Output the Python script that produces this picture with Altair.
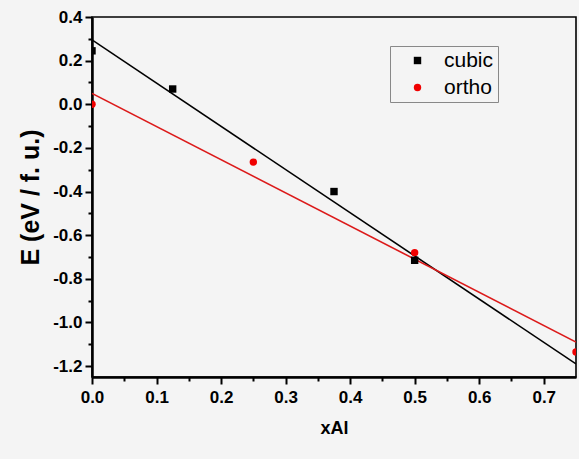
import altair as alt
import pandas as pd

# Data
cubic_x = [0.0, 0.125, 0.375, 0.5]
cubic_y = [0.245, 0.07, -0.40, -0.715]
ortho_x = [0.0, 0.25, 0.5, 0.75]
ortho_y = [0.0, -0.265, -0.68, -1.135]

fit_x = [0.0, 0.75]
cubic_fit_y = [0.295, -1.19]
ortho_fit_y = [0.05, -1.09]

series_names = ["cubic", "ortho"]
series_colors = ["#000000", "#f00000"]
series_shapes = ["square", "circle"]

x_major = [0.0, 0.1, 0.2, 0.3, 0.4, 0.5, 0.6, 0.7]
x_minor = [0.05, 0.15, 0.25, 0.35, 0.45, 0.55, 0.65]
y_major = [0.4, 0.2, 0.0, -0.2, -0.4, -0.6, -0.8, -1.0, -1.2]
y_minor = [0.3, 0.1, -0.1, -0.3, -0.5, -0.7, -0.9, -1.1]

pts = pd.DataFrame(
    {"x": cubic_x + ortho_x,
     "y": cubic_y + ortho_y,
     "series": ["cubic"] * len(cubic_x) + ["ortho"] * len(ortho_x)}
)
fit_c = pd.DataFrame({"x": fit_x, "y": cubic_fit_y})
fit_o = pd.DataFrame({"x": fit_x, "y": ortho_fit_y})

xscale = alt.Scale(domain=[0, 0.75], nice=False, zero=False)
yscale = alt.Scale(domain=[-1.25, 0.4], nice=False, zero=False)

FONT = "Liberation Sans"
LBL = "replace(format(datum.value, '.1f'), '\u2212', '-')"

minor_x_axis = alt.Axis(values=x_minor, labels=False, title=None, domain=False,
                        grid=False, tickSize=4, tickWidth=2, tickColor="black", orient="bottom")
minor_y_axis = alt.Axis(values=y_minor, labels=False, title=None, domain=False,
                        grid=False, tickSize=4, tickWidth=2, tickColor="black", orient="left")

major_x_axis = alt.Axis(values=x_major, labelExpr=LBL, title="xAl", grid=False,
                        orient="bottom", tickSize=7, tickWidth=2, tickColor="black",
                        domainColor="black", domainWidth=2.5, labelFlush=False,
                        labelFont=FONT, labelFontSize=17, labelFontWeight="bold",
                        labelColor="black", labelPadding=5,
                        titleFont=FONT, titleFontSize=18, titleFontWeight="bold",
                        titleColor="black", titlePadding=14)
major_y_axis = alt.Axis(values=y_major, labelExpr=LBL, title="E (eV / f. u.)", grid=False,
                        orient="left", tickSize=7, tickWidth=2, tickColor="black",
                        domainColor="black", domainWidth=2.5, labelFlush=False,
                        labelFont=FONT, labelFontSize=17, labelFontWeight="bold",
                        labelColor="black", labelPadding=3,
                        titleFont=FONT, titleFontSize=25, titleFontWeight="bold",
                        titleColor="black", titlePadding=9)

line_c = alt.Chart(fit_c).mark_line(color="black", strokeWidth=1.6, clip=True).encode(
    x=alt.X("x:Q", scale=xscale, axis=minor_x_axis),
    y=alt.Y("y:Q", scale=yscale, axis=minor_y_axis),
)
line_o = alt.Chart(fit_o).mark_line(color="#dc1a1a", strokeWidth=1.6, clip=True).encode(
    x=alt.X("x:Q", scale=xscale, axis=None),
    y=alt.Y("y:Q", scale=yscale, axis=None),
)

legend = alt.Legend(title=None, orient="none", legendX=298, legendY=29,
                    strokeColor="#888888", padding=4,
                    labelFont=FONT, labelFontSize=21, labelColor="black",
                    symbolSize=55, symbolOffset=13, labelOffset=16,
                    rowPadding=5, symbolStrokeWidth=0)

points = alt.Chart(pts).mark_point(filled=True, opacity=1, size=55, clip=True).encode(
    x=alt.X("x:Q", scale=xscale, axis=major_x_axis),
    y=alt.Y("y:Q", scale=yscale, axis=major_y_axis),
    color=alt.Color("series:N",
                    scale=alt.Scale(domain=series_names, range=series_colors),
                    legend=legend),
    shape=alt.Shape("series:N",
                    scale=alt.Scale(domain=series_names, range=series_shapes),
                    legend=legend),
)

chart = alt.layer(line_c, line_o, points).resolve_axis(
    x="independent", y="independent"
).properties(
    width=484, height=360,
    autosize=alt.AutoSizeParams(type="none"),
    padding={"left": 92, "top": 17, "right": 3, "bottom": 82},
    background="#f4f4f4",
).configure_view(stroke="black", strokeWidth=1.6)

chart.save("out.html", embed_options={"renderer": "svg", "actions": False})
